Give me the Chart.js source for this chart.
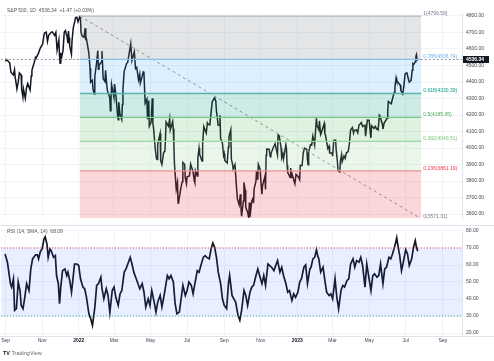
<!DOCTYPE html>
<html><head><meta charset="utf-8">
<script src="https://cdn.jsdelivr.net/npm/chart.js@4/dist/chart.umd.min.js"></script>
<style>
body{margin:0;background:#fff;width:494px;height:361px;overflow:hidden;position:relative;font-family:"Liberation Sans",Arial,sans-serif}
canvas{position:absolute;left:0}
#c1{top:0}
#c2{top:225px}
.t{position:absolute;font-size:5px;color:#555;white-space:nowrap;line-height:6px}
</style></head><body>
<canvas id="c1" width="494" height="225"></canvas>
<canvas id="c2" width="494" height="136"></canvas>
<div class="t" style="left:7px;top:7px">S&amp;P 500, 1D &nbsp;4536.34 &nbsp;+1.47 (+0.03%)</div>
<div class="t" style="left:7px;top:228px">RSI (14, SMA, 14) &nbsp;68.09</div>
<div class="t" style="left:3px;top:350px;font-size:5.5px;color:#666"><b style="color:#131722">TV</b> TradingView</div>
<script>
// ---------- DATA ----------
const priceDates = [
'2021-09-01','2021-09-02','2021-09-03','2021-09-07','2021-09-08','2021-09-10','2021-09-14','2021-09-16','2021-09-17','2021-09-20','2021-09-22','2021-09-24','2021-09-27','2021-09-28','2021-09-30',
'2021-10-01','2021-10-04','2021-10-06','2021-10-08','2021-10-12','2021-10-14','2021-10-15','2021-10-19','2021-10-21','2021-10-22','2021-10-26','2021-10-28','2021-10-29',
'2021-11-02','2021-11-04','2021-11-05','2021-11-08','2021-11-10','2021-11-12','2021-11-16','2021-11-18','2021-11-22','2021-11-24','2021-11-26','2021-11-29','2021-11-30',
'2021-12-01','2021-12-02','2021-12-03','2021-12-06','2021-12-08','2021-12-10','2021-12-13','2021-12-14','2021-12-15','2021-12-16','2021-12-17','2021-12-20','2021-12-21','2021-12-23','2021-12-27','2021-12-29','2021-12-31',
'2022-01-03','2022-01-04','2022-01-05','2022-01-07','2022-01-10','2022-01-12','2022-01-13','2022-01-14','2022-01-18','2022-01-19','2022-01-20','2022-01-21','2022-01-24','2022-01-25','2022-01-27','2022-01-28','2022-01-31',
'2022-02-02','2022-02-03','2022-02-04','2022-02-08','2022-02-09','2022-02-10','2022-02-11','2022-02-14','2022-02-15','2022-02-17','2022-02-18','2022-02-22','2022-02-23','2022-02-24','2022-02-25',
'2022-03-01','2022-03-02','2022-03-04','2022-03-07','2022-03-08','2022-03-09','2022-03-11','2022-03-14','2022-03-15','2022-03-16','2022-03-18','2022-03-22','2022-03-24','2022-03-25','2022-03-29','2022-03-31',
'2022-04-04','2022-04-06','2022-04-08','2022-04-11','2022-04-13','2022-04-14','2022-04-19','2022-04-20','2022-04-22','2022-04-25','2022-04-26','2022-04-28','2022-04-29',
'2022-05-02','2022-05-04','2022-05-05','2022-05-06','2022-05-09','2022-05-11','2022-05-12','2022-05-13','2022-05-17','2022-05-18','2022-05-20','2022-05-23','2022-05-25','2022-05-26','2022-05-27','2022-05-31',
'2022-06-02','2022-06-03','2022-06-07','2022-06-08','2022-06-09','2022-06-10','2022-06-13','2022-06-15','2022-06-16','2022-06-17','2022-06-21','2022-06-23','2022-06-24','2022-06-27','2022-06-28','2022-06-30',
'2022-07-01','2022-07-05','2022-07-07','2022-07-11','2022-07-13','2022-07-14','2022-07-15','2022-07-18','2022-07-19','2022-07-21','2022-07-22','2022-07-26','2022-07-27','2022-07-29',
'2022-08-02','2022-08-04','2022-08-05','2022-08-08','2022-08-10','2022-08-12','2022-08-16','2022-08-18','2022-08-19','2022-08-22','2022-08-24','2022-08-25','2022-08-26','2022-08-29','2022-08-31',
'2022-09-01','2022-09-02','2022-09-06','2022-09-08','2022-09-09','2022-09-12','2022-09-13','2022-09-15','2022-09-16','2022-09-19','2022-09-21','2022-09-23','2022-09-26','2022-09-28','2022-09-29','2022-09-30',
'2022-10-03','2022-10-04','2022-10-06','2022-10-07','2022-10-10','2022-10-12','2022-10-13','2022-10-14','2022-10-17','2022-10-19','2022-10-20','2022-10-21','2022-10-24','2022-10-25','2022-10-27','2022-10-28','2022-10-31',
'2022-11-02','2022-11-03','2022-11-04','2022-11-08','2022-11-09','2022-11-10','2022-11-11','2022-11-15','2022-11-17','2022-11-18','2022-11-22','2022-11-25','2022-11-29','2022-11-30',
'2022-12-01','2022-12-02','2022-12-05','2022-12-06','2022-12-08','2022-12-09','2022-12-13','2022-12-14','2022-12-15','2022-12-16','2022-12-20','2022-12-21','2022-12-22','2022-12-23','2022-12-28','2022-12-30',
'2023-01-03','2023-01-05','2023-01-06','2023-01-09','2023-01-11','2023-01-13','2023-01-17','2023-01-18','2023-01-19','2023-01-20','2023-01-23','2023-01-25','2023-01-27','2023-01-30','2023-01-31',
'2023-02-02','2023-02-03','2023-02-06','2023-02-07','2023-02-09','2023-02-10','2023-02-14','2023-02-15','2023-02-16','2023-02-17','2023-02-21','2023-02-23','2023-02-24','2023-02-28',
'2023-03-01','2023-03-03','2023-03-06','2023-03-07','2023-03-09','2023-03-10','2023-03-13','2023-03-14','2023-03-16','2023-03-17','2023-03-20','2023-03-22','2023-03-24','2023-03-27','2023-03-29','2023-03-31',
'2023-04-03','2023-04-05','2023-04-06','2023-04-10','2023-04-12','2023-04-14','2023-04-18','2023-04-20','2023-04-21','2023-04-24','2023-04-25','2023-04-27','2023-04-28',
'2023-05-01','2023-05-03','2023-05-04','2023-05-05','2023-05-09','2023-05-11','2023-05-12','2023-05-16','2023-05-18','2023-05-19','2023-05-23','2023-05-24','2023-05-26','2023-05-31',
'2023-06-01','2023-06-02','2023-06-05','2023-06-07','2023-06-09','2023-06-12','2023-06-13','2023-06-15','2023-06-16','2023-06-20','2023-06-22','2023-06-23','2023-06-26','2023-06-28','2023-06-30',
'2023-07-03','2023-07-06','2023-07-07','2023-07-10','2023-07-12','2023-07-13','2023-07-14','2023-07-17','2023-07-18','2023-07-19','2023-07-20','2023-07-21'
];
const priceValues = [
4524,4537,4535,4520,4514,4459,4443,4474,4433,4358,4396,4455,4443,4353,4308,
4357,4301,4364,4391,4351,4438,4471,4520,4549,4545,4575,4596,4605,
4631,4680,4697,4702,4646,4683,4701,4704,4682,4701,4595,4655,4567,
4513,4577,4538,4592,4701,4712,4669,4635,4709,4668,4621,4568,4649,4726,4791,4793,4766,
4797,4794,4701,4677,4671,4726,4660,4663,4577,4533,4483,4398,4410,4357,4327,4432,4516,
4590,4477,4501,4521,4587,4504,4419,4402,4471,4380,4349,4305,4226,4288,4385,
4306,4387,4329,4201,4171,4278,4204,4173,4263,4358,4463,4512,4520,4543,4632,4530,
4583,4481,4488,4413,4447,4393,4462,4460,4272,4297,4175,4288,4132,
4155,4301,4147,4123,3991,3935,3930,4024,4088,3924,3901,3974,3979,4058,4158,4132,
4177,4109,4161,4116,4018,3901,3750,3790,3667,3675,3765,3796,3912,3901,3821,3785,
3825,3831,3903,3855,3802,3790,3863,3831,3937,3999,3962,3921,4024,4130,
4091,4152,4145,4140,4210,4280,4305,4284,4228,4138,4141,4199,4058,4031,3955,
3967,3924,3909,4006,4067,4110,3932,3901,3873,3900,3790,3693,3655,3719,3641,3586,
3679,3791,3745,3640,3613,3577,3670,3583,3678,3695,3666,3753,3798,3859,3807,3901,3872,
3759,3720,3771,3828,3749,3956,3993,3992,3947,3965,4003,4026,3958,4080,
4076,4072,3999,3941,3963,3934,4020,3996,3896,3852,3821,3879,3822,3845,3783,3840,
3825,3808,3895,3893,3970,3999,3991,3929,3899,3973,4020,4017,4071,4018,4077,
4180,4136,4111,4164,4082,4090,4136,4148,4090,4079,3997,4012,3970,3970,
3951,4046,4048,3986,3918,3862,3855,3920,3960,3917,3952,3937,3971,3978,4027,4109,
4124,4091,4105,4110,4092,4138,4154,4130,4133,4138,4071,4136,4169,
4167,4091,4061,4136,4119,4131,4124,4110,4198,4192,4146,4115,4151,4180,
4221,4282,4273,4268,4299,4338,4369,4426,4410,4389,4381,4348,4328,4377,4450,
4455,4411,4399,4410,4472,4510,4505,4522,4555,4566,4535,4536.34
];
const lastPrice = 4536.34;

// RSI readings: days since 2022-01-01 and values
const rsiDays = [
-123,-119,-114,-112,-109,-107,-104,-101,-98,-96,-93,-90,-87,-83,-80,-77,-72,-69,-67,-64,-61,-58,-56,-53,-51,-48,-46,-42,-39,-37,-34,-32,-30,-27,-23,-20,-18,-15,-12,-9,-7,-3,
0,3,7,10,13,17,20,23,27,30,33,37,39,42,46,49,52,56,59,62,66,69,72,76,79,82,86,89,92,96,99,102,106,109,112,116,119,122,126,129,132,136,
139,143,148,151,154,158,161,164,168,171,174,178,181,184,188,191,194,198,201,204,208,211,214,218,221,224,227,230,233,237,240,243,247,250,252,256,259,262,266,269,272,276,279,282,286,289,292,296,299,302,306,309,312,316,319,322,326,329,332,336,339,342,346,349,352,356,359,362,
366,369,372,376,379,382,386,388,391,394,397,399,401,404,408,411,414,418,421,424,428,431,434,438,441,444,448,451,454,458,461,464,468,471,474,478,481,484,488,491,494,498,501,504,508,511,514,518,521,524,528,531,533,536,539,542,546,549,552,556,559,562,564,566
];
const rsiValues = [
66.5,61.6,49,47,51.9,33.3,34.3,50,45,36.2,34.3,41,49,45,57.7,63.6,66,66,63.6,67.9,69.4,75.3,76.6,72.3,64.5,69.4,68.4,64.5,65.5,53.8,49,37.2,47,56.7,57.7,53.8,55.8,50.9,44,53.8,60.6,60.6,
59.7,51.9,47,46,41,31.3,28.4,24.5,35.3,48,49,52.8,46,40.1,46,42.1,32,45,47,41,36.2,43,45,55.8,57.7,60.6,64.5,60.6,55.8,51.9,49,46,49,44,35.3,40.1,36.2,45,38.2,32.3,38.2,42.1,
35.3,43,53.8,51.9,53.8,50,37.2,31.3,32.3,40.1,48,42.1,45,50,48,43,49,56.7,55.8,59.7,64.5,65.5,64.5,63.6,69.4,72.9,70.4,64.5,55.8,49,40.1,36.2,34.3,49,53.8,42.1,40.1,38.2,30.4,27.5,33.3,45,42.1,36.2,44,47,48,53.8,57.7,53.8,49,53.8,48,60.6,59.7,58.7,56.7,59.7,62.6,55.8,58.7,53.8,49,44,45,39.2,43,41,
44,50,51.9,58.7,60,49,57.7,58.7,63.6,64.5,69,65.5,63.6,55.8,58.7,50.9,44,42.1,43,40.1,51.9,41,34.3,45,48,47,50.9,51.9,60.6,63.6,58.7,62.6,61.6,64.5,59.7,47,60.6,53.8,45,53.8,54.8,52.8,53.8,60.6,49,57.7,58.7,64.5,63.6,66.5,71.4,76,71.4,65.5,56.7,61.6,69,66.5,59.7,63.6,70.4,74.3,70.4,68.09
];

const fibRatios = ['1','0.786','0.618','0.5','0.382','0.236','0'];
const fibLevels = [4799.59,4536.74,4330.39,4185.45,4040.51,3861.19,3571.31];
const fibStartDate = '2022-01-03';
const fibEndDate = '2023-07-27';

const axisDates = ['2021-09-01','2021-11-01','2022-01-01','2022-03-01','2022-05-01','2022-07-01','2022-09-01','2022-11-01','2023-01-01','2023-03-01','2023-05-01','2023-07-01','2023-09-01'];
const axisLabels = ['Sep','Nov','2022','Mar','May','Jul','Sep','Nov','2023','Mar','May','Jul','Sep'];
const priceTicks = [3600,3700,3800,3900,4000,4100,4200,4300,4400,4500,4600,4700,4800];
const rsiTicks = [20,30,40,50,60,70,80];
const rsiUpper = 70, rsiLower = 30;

// ---------- STYLE ----------
const fibLineColors = ['#b2b5be','#90c8f6','#5cb8a6','#86c98a','#a5d6a7','#f58c93','#c5c8cf'];
const fibFillColors = ['rgba(120,123,134,0.20)','rgba(33,150,243,0.15)','rgba(8,153,129,0.20)','rgba(76,175,80,0.18)','rgba(129,199,132,0.16)','rgba(242,54,69,0.20)'];
const fibTextColors = ['#787b86','#64b5f6','#089981','#4caf50','#81c784','#f23645','#787b86'];
const FONT = '"Liberation Sans", Arial, sans-serif';
const GRID = '#f0f3fa';

const day = s => (Date.UTC(+s.slice(0,4), +s.slice(5,7)-1, +s.slice(8,10)) - Date.UTC(2022,0,1)) / 86400000;
const X_MIN = -130, X_MAX = 640;
const gridTicks = s => { s.ticks = axisDates.map(d => ({value: day(d)})); };
const fibStart = day(fibStartDate), fibEnd = day(fibEndDate);

// place the value range so that chosen tick values land on chosen pixel rows
function calibrate(chart, vTop, pTop, vBot, pBot) {
  for (let k = 0; k < 3; k++) {
    const a = chart.chartArea;
    const ppu = (pBot - pTop) / (vTop - vBot);
    chart.options.scales.y.max = vTop + (pTop - a.top) / ppu;
    chart.options.scales.y.min = vBot - (a.bottom - pBot) / ppu;
    chart.update();
  }
}

// ---------- PRICE CHART ----------
const fibDatasets = fibLevels.map((lv, i) => ({
  data: [{x: fibStart, y: lv}, {x: fibEnd, y: lv}],
  borderColor: fibLineColors[i], borderWidth: 1.3,
  backgroundColor: fibFillColors[i] || 'transparent',
  fill: i < fibLevels.length - 1 ? '+1' : false,
  pointRadius: 0, tension: 0
}));

const fibLabelPlugin = {
  id: 'fibLabels',
  afterDatasetsDraw(chart) {
    const {ctx, scales: {x, y}} = chart;
    ctx.save();
    ctx.font = '5px ' + FONT;
    ctx.textBaseline = 'middle';
    ctx.textAlign = 'left';
    fibLevels.forEach((lv, i) => {
      ctx.fillStyle = fibTextColors[i];
      ctx.fillText(fibRatios[i] + '(' + lv.toFixed(2) + ')', x.getPixelForValue(fibEnd) + 2, y.getPixelForValue(lv) - 2.5);
    });
    ctx.restore();
  },
  afterDraw(chart) {
    const {ctx, scales: {y}, chartArea} = chart;
    const py = y.getPixelForValue(lastPrice);
    ctx.save();
    ctx.fillStyle = '#131722';
    ctx.fillRect(chartArea.right + 1, py - 3.5, 26, 7);
    ctx.fillStyle = '#fff';
    ctx.font = 'bold 5px ' + FONT;
    ctx.textBaseline = 'middle';
    ctx.textAlign = 'left';
    ctx.fillText(lastPrice.toFixed(2), chartArea.right + 4, py + 0.3);
    ctx.restore();
  }
};

const priceChart = new Chart(document.getElementById('c1'), {
  type: 'line',
  data: { datasets: [
    ...fibDatasets,
    { data: [{x: fibStart, y: fibLevels[0]}, {x: fibEnd, y: fibLevels[fibLevels.length-1]}],
      borderColor: '#9598a1', borderWidth: 1, borderDash: [3,3], pointRadius: 0, fill: false },
    { data: [{x: X_MIN, y: lastPrice}, {x: X_MAX, y: lastPrice}],
      borderColor: '#9598a1', borderWidth: 1, borderDash: [2,2], pointRadius: 0, fill: false },
    { data: priceDates.map((d, i) => ({x: day(d), y: priceValues[i]})),
      borderColor: '#131722', borderWidth: 1.5, pointRadius: 0, fill: false, tension: 0 }
  ]},
  options: {
    responsive: false, animation: false, events: [],
    layout: { padding: {top: 13, bottom: 1, left: 0, right: 0} },
    plugins: { legend: {display: false}, tooltip: {enabled: false} },
    scales: {
      x: { type: 'linear', min: X_MIN, max: X_MAX, afterBuildTicks: gridTicks,
           ticks: {display: false}, grid: {color: GRID, drawTicks: false}, border: {display: false} },
      y: { position: 'right', min: 3539.39, max: 4818.18,
           afterBuildTicks: s => { s.ticks = priceTicks.map(v => ({value: v})); },
           afterFit: s => { s.width = 32; },
           ticks: { callback: v => v.toFixed(2), font: {size: 5, family: FONT}, color: '#434651', padding: 4 },
           grid: { color: GRID, drawTicks: false }, border: { color: '#e0e3eb' } }
    }
  },
  plugins: [fibLabelPlugin]
});
calibrate(priceChart, 4800, 16, 3600, 214);

// ---------- RSI CHART ----------
const monthLabelPlugin = {
  id: 'months',
  afterDraw(chart) {
    const {ctx, scales: {x}, chartArea} = chart;
    ctx.save();
    ctx.textAlign = 'center';
    ctx.textBaseline = 'middle';
    axisDates.forEach((d, i) => {
      const isYear = /^\d{4}$/.test(axisLabels[i]);
      ctx.font = (isYear ? 'bold ' : '') + '5px ' + FONT;
      ctx.fillStyle = isYear ? '#131722' : '#434651';
      ctx.fillText(axisLabels[i], x.getPixelForValue(day(d)), 116);
    });
    ctx.strokeStyle = '#e0e3eb';
    ctx.lineWidth = 1;
    ctx.beginPath();
    ctx.moveTo(0, 0.5); ctx.lineTo(chartArea.right + 32, 0.5);
    ctx.moveTo(0, 111.5); ctx.lineTo(chartArea.right + 32, 111.5);
    ctx.stroke();
    ctx.restore();
  }
};

const rsiChart = new Chart(document.getElementById('c2'), {
  type: 'line',
  data: { datasets: [
    { data: [{x: X_MIN, y: rsiUpper}, {x: X_MAX, y: rsiUpper}], borderColor: '#f23645', borderWidth: 1,
      borderDash: [1,2], pointRadius: 0, fill: '+1', backgroundColor: 'rgba(41,98,255,0.10)' },
    { data: [{x: X_MIN, y: rsiLower}, {x: X_MAX, y: rsiLower}], borderColor: '#22ab94', borderWidth: 1,
      borderDash: [1,2], pointRadius: 0, fill: false },
    { data: rsiDays.map((d, i) => ({x: d, y: rsiValues[i]})), borderColor: '#131722', borderWidth: 1.7,
      pointRadius: 0, fill: false, tension: 0 }
  ]},
  options: {
    responsive: false, animation: false, events: [],
    layout: { padding: {top: 0, bottom: 25, left: 0, right: 0} },
    plugins: { legend: {display: false}, tooltip: {enabled: false} },
    scales: {
      x: { type: 'linear', min: X_MIN, max: X_MAX, afterBuildTicks: gridTicks,
           ticks: {display: false}, grid: {color: GRID, drawTicks: false}, border: {display: false} },
      y: { position: 'right', min: 18.24, max: 83.53,
           afterBuildTicks: s => { s.ticks = rsiTicks.map(v => ({value: v})); },
           afterFit: s => { s.width = 32; },
           ticks: { callback: v => v.toFixed(2), font: {size: 5, family: FONT}, color: '#434651', padding: 4 },
           grid: { color: GRID, drawTicks: false }, border: { color: '#e0e3eb' } }
    }
  },
  plugins: [monthLabelPlugin]
});
calibrate(rsiChart, 80, 6, 20, 108);
</script>
</body></html>
